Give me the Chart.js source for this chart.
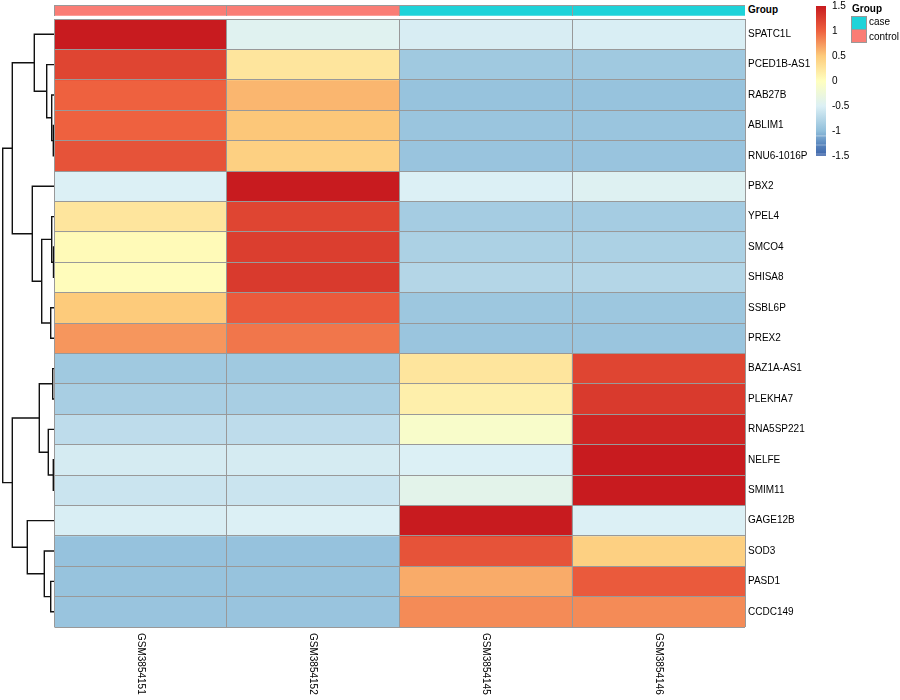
<!DOCTYPE html>
<html>
<head>
<meta charset="utf-8">
<script src="https://cdn.jsdelivr.net/npm/chart.js@4"></script>
<style>
  body { margin: 0; background: #fff; font-family: 'Liberation Sans', Arial, sans-serif; }
  #wrap { position: relative; width: 900px; height: 700px; }
  canvas, .lbl, .box { position: absolute; }
  .lbl { font-size: 10px; line-height: 12px; color: #000; white-space: nowrap; }
  .box { box-sizing: border-box; border: 1px solid #999; width: 16px; height: 14px; left: 851px; }
</style>
</head>
<body>
<div id="wrap">
  <canvas id="dendro" width="54" height="608" style="left:0;top:19px;width:54px;height:608px"></canvas>
  <canvas id="annot" width="691" height="11" style="left:54px;top:5px;width:691px;height:11px"></canvas>
  <canvas id="heat" width="846" height="681" style="left:54px;top:19px;width:846px;height:681px"></canvas>
  <canvas id="scale" width="88" height="162" style="left:812px;top:0;width:88px;height:162px"></canvas>
  <div class="lbl" style="left:748px;top:4px;font-weight:bold">Group</div>
  <div class="lbl" style="left:852px;top:3px;font-weight:bold">Group</div>
  <div class="box" style="top:16px;background:#1ED3D9"></div>
  <div class="box" style="top:29px;background:#FA7D75"></div>
  <div class="lbl" style="left:869px;top:16px">case</div>
  <div class="lbl" style="left:869px;top:31px">control</div>
</div>
<script>
// Samples and annotation
const samples = ['GSM3854151', 'GSM3854152', 'GSM3854145', 'GSM3854146'];
const sampleGroup = ['control', 'control', 'case', 'case'];
const groupColors = { case: '#1ED3D9', control: '#FA7D75' };

// Genes (row order as displayed)
const genes = ['SPATC1L', 'PCED1B-AS1', 'RAB27B', 'ABLIM1', 'RNU6-1016P', 'PBX2', 'YPEL4', 'SMCO4',
    'SHISA8', 'SSBL6P', 'PREX2', 'BAZ1A-AS1', 'PLEKHA7', 'RNA5SP221', 'NELFE', 'SMIM11',
    'GAGE12B', 'SOD3', 'PASD1', 'CCDC149'];

// Row z-scores, one array per sample
const gsm3854151 = [1.5, 1.2, 1.0, 1.0, 1.1, -0.5, 0.25, 0.05, 0.03, 0.5, 0.75,
    -0.9, -0.85, -0.7, -0.55, -0.62, -0.52, -0.97, -0.96, -0.95];
const gsm3854152 = [-0.45, 0.25, 0.6, 0.52, 0.45, 1.5, 1.2, 1.25, 1.28, 1.05, 0.9,
    -0.9, -0.85, -0.7, -0.55, -0.62, -0.5, -0.97, -0.96, -0.95];
const gsm3854145 = [-0.53, -0.9, -0.96, -0.94, -0.95, -0.5, -0.87, -0.82, -0.77, -0.92, -0.94,
    0.25, 0.15, -0.1, -0.5, -0.4, 1.5, 1.1, 0.65, 0.8];
const gsm3854146 = [-0.52, -0.9, -0.96, -0.94, -0.95, -0.47, -0.87, -0.82, -0.77, -0.92, -0.94,
    1.2, 1.28, 1.42, 1.5, 1.5, -0.5, 0.45, 1.05, 0.8];
const sampleValues = [gsm3854151, gsm3854152, gsm3854145, gsm3854146];

// Row dendrogram (hclust style merges, negative = leaf in display order)
const mergeLeft = [-4, -3, -2, -1, -8, -7, -10, 6, -6, 4, -12, -15, -14, 11, -19, -18, -17, 14, 10];
const mergeRight = [-5, 1, 2, 3, -9, 5, -11, 7, 8, 9, -13, -16, 12, 13, -20, 15, 16, 17, 18];
const mergeHeight = [0.07, 0.23, 0.73, 1.97, 0.05, 0.23, 0.33, 1.23, 2.17, 4.17,
    0.13, 0.07, 0.57, 1.47, 0.33, 0.97, 2.67, 4.17, 5.13];

// Colour scale
const legendTicks = [-1.5, -1, -0.5, 0, 0.5, 1, 1.5];
const colorBreaks = [-1.5, -1.25, -1, -0.5, 0, 0.5, 1, 1.5];
const colorStops = ['#3B62A8', '#5C8AC0', '#91BFDB', '#DCF0F5', '#FFFFBF', '#FDCB7B', '#EE613F', '#C81B1F'];
// legend bar pieces (pheatmap leaves small gaps at the low end)
const legendPieces = [[-1.09, 1.5], [-1.27, -1.11], [-1.45, -1.29], [-1.49, -1.47]];

Chart.defaults.font.family = "'Liberation Sans', Arial, sans-serif";
Chart.defaults.font.size = 10;
Chart.defaults.color = '#000';

function hexToRgb(h) {
    return [parseInt(h.slice(1, 3), 16), parseInt(h.slice(3, 5), 16), parseInt(h.slice(5, 7), 16)];
}

function colorFor(v) {
    v = Math.max(colorBreaks[0], Math.min(colorBreaks[colorBreaks.length - 1], v));
    for (let i = 0; i < colorBreaks.length - 1; i++) {
        if (v <= colorBreaks[i + 1]) {
            const t = (v - colorBreaks[i]) / (colorBreaks[i + 1] - colorBreaks[i]);
            const a = hexToRgb(colorStops[i]);
            const b = hexToRgb(colorStops[i + 1]);
            const c = a.map((x, k) => Math.round(x + (b[k] - x) * t));
            return `rgb(${c[0]},${c[1]},${c[2]})`;
        }
    }
    return colorStops[colorStops.length - 1];
}

const lineGrey = '#999999';
const noPlugins = { legend: { display: false }, tooltip: { enabled: false } };

// no label padding, so the chart area fills the canvas exactly
function fitTo(w, h) {
    return (s) => {
        if (w !== null) s.width = w;
        if (h !== null) s.height = h;
        s.paddingTop = 0;
        s.paddingBottom = 0;
        s.paddingLeft = 0;
        s.paddingRight = 0;
    };
}

// Dendrogram
const nodeY = [];
function nodePos(id) {
    return id < 0 ? { y: -id - 0.5, h: 0 } : { y: nodeY[id - 1], h: mergeHeight[id - 1] };
}
const dendroSets = mergeHeight.map((h, i) => {
    const l = nodePos(mergeLeft[i]);
    const r = nodePos(mergeRight[i]);
    nodeY[i] = (l.y + r.y) / 2;
    return {
        data: [{ x: l.h, y: l.y }, { x: h, y: l.y }, { x: h, y: r.y }, { x: r.h, y: r.y }],
        showLine: true,
        borderColor: '#111',
        borderWidth: 1.4,
        pointRadius: 0,
        tension: 0,
        clip: false,
    };
});

new Chart(document.getElementById('dendro'), {
    type: 'scatter',
    data: { datasets: dendroSets },
    options: {
        responsive: false,
        animation: false,
        layout: { padding: 0 },
        plugins: noPlugins,
        scales: {
            x: { type: 'linear', min: 0, max: 5.4, reverse: true, display: false },
            y: { type: 'linear', min: 0, max: genes.length, reverse: true, display: false },
        },
    },
});

// Annotation bar
new Chart(document.getElementById('annot'), {
    type: 'bar',
    data: {
        labels: samples,
        datasets: [{
            data: samples.map(() => 1),
            backgroundColor: sampleGroup.map((g) => groupColors[g]),
            borderWidth: 0,
            barPercentage: 1,
            categoryPercentage: 1,
        }],
    },
    options: {
        responsive: false,
        animation: false,
        layout: { padding: 0 },
        plugins: noPlugins,
        scales: {
            x: {
                grid: { offset: true, color: lineGrey, drawTicks: false, z: 1 },
                border: { color: lineGrey },
                ticks: { display: false },
                afterFit: fitTo(null, 0),
            },
            y: {
                min: 0, max: 1,
                ticks: { display: false, stepSize: 1 },
                grid: { color: lineGrey, drawTicks: false, z: 1 },
                border: { color: lineGrey },
                afterFit: fitTo(0, null),
            },
        },
    },
});

// Rotated sample labels under the heatmap
const columnLabels = {
    id: 'columnLabels',
    afterDraw(chart) {
        const ctx = chart.ctx;
        const xs = chart.scales.x;
        ctx.save();
        ctx.font = "10px 'Liberation Sans', Arial, sans-serif";
        ctx.fillStyle = '#000';
        ctx.textAlign = 'left';
        ctx.textBaseline = 'middle';
        samples.forEach((s, i) => {
            ctx.save();
            ctx.translate(xs.getPixelForValue(i), chart.chartArea.bottom + 6);
            ctx.rotate(Math.PI / 2);
            ctx.fillText(s, 0, 0);
            ctx.restore();
        });
        ctx.restore();
    },
};

// Heatmap
new Chart(document.getElementById('heat'), {
    type: 'bar',
    data: {
        labels: samples,
        datasets: genes.map((g, r) => ({
            label: g,
            data: samples.map(() => 1),
            backgroundColor: samples.map((s, c) => colorFor(sampleValues[c][r])),
            borderWidth: 0,
            barPercentage: 1,
            categoryPercentage: 1,
        })),
    },
    options: {
        responsive: false,
        animation: false,
        layout: { padding: 0 },
        plugins: noPlugins,
        scales: {
            x: {
                stacked: true,
                grid: { offset: true, color: lineGrey, drawTicks: false, z: 1 },
                border: { color: lineGrey },
                ticks: { display: false },
                afterFit: fitTo(null, 73),
            },
            y: {
                stacked: true,
                min: 0, max: genes.length,
                reverse: true,
                ticks: { display: false, stepSize: 1 },
                grid: { color: lineGrey, drawTicks: false, z: 1 },
                border: { color: lineGrey },
                afterFit: fitTo(0, null),
            },
            genes: {
                type: 'category',
                axis: 'y',
                position: 'right',
                labels: genes,
                offset: true,
                grid: { display: false, drawTicks: false },
                border: { display: false },
                ticks: { autoSkip: false, padding: 3, color: '#000', font: { size: 10 } },
                afterFit: fitTo(155, null),
            },
        },
    },
    plugins: [columnLabels],
});

// Colour legend
function legendGradient(context) {
    const chart = context.chart;
    const ys = chart.scales.y;
    if (!ys || !chart.chartArea) return colorFor(0);
    const top = ys.getPixelForValue(1.5);
    const bottom = ys.getPixelForValue(-1.5);
    const grad = chart.ctx.createLinearGradient(0, bottom, 0, top);
    colorBreaks.forEach((b, i) => grad.addColorStop((b + 1.5) / 3, colorStops[i]));
    return grad;
}

new Chart(document.getElementById('scale'), {
    type: 'bar',
    data: {
        labels: [''],
        datasets: legendPieces.map((p) => ({
            data: [p],
            backgroundColor: legendGradient,
            borderWidth: 0,
            barPercentage: 1,
            categoryPercentage: 1,
            grouped: false,
        })),
    },
    options: {
        responsive: false,
        animation: false,
        layout: { padding: { left: 4, top: 6, bottom: 6, right: 0 } },
        plugins: noPlugins,
        scales: {
            x: { display: false },
            y: {
                position: 'right',
                min: -1.5, max: 1.5,
                afterBuildTicks(s) { s.ticks = legendTicks.map((v) => ({ value: v })); },
                ticks: { padding: 6, color: '#000', font: { size: 10 }, callback: (v) => String(v) },
                grid: { display: false, drawTicks: false },
                border: { display: false },
                afterFit: fitTo(74, null),
            },
        },
    },
});
</script>
</body>
</html>
